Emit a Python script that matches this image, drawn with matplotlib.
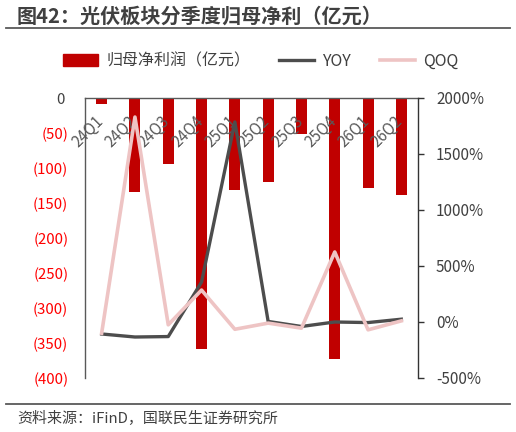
import matplotlib
matplotlib.use("Agg")
import matplotlib.pyplot as plt
from matplotlib.lines import Line2D
from matplotlib.patches import Patch
from matplotlib.transforms import blended_transform_factory

plt.rcParams['font.family'] = ['Noto Sans CJK SC', 'DejaVu Sans']

# 数据
quarters = ['24Q1', '24Q2', '24Q3', '24Q4', '25Q1', '25Q2', '25Q3', '25Q4', '26Q1', '26Q2']
profit = [-8, -134, -94, -358, -131, -120, -51, -373, -129, -139]   # 亿元
yoy = [-107, -134, -130, 357, 1786, 5, -40, 0, -5, 25]               # %
qoq = [-100, 1830, -25, 285, -65, -10, -55, 625, -70, 10]            # %

left_ticks = [0, -50, -100, -150, -200, -250, -300, -350, -400]
right_ticks = [2000, 1500, 1000, 500, 0, -500]

RED = '#C00000'
DARK = '#4D4D4D'
PINK = '#EEC4C4'
GRAY = '#595959'

fig = plt.figure(figsize=(5.16, 4.32), dpi=100)
ax = fig.add_axes([85 / 516, 1 - 378 / 432, (418 - 85) / 516, 280 / 432])

x = list(range(len(quarters)))
ax.bar(x, profit, width=0.33, color=RED, zorder=2)
ax.set_xlim(-0.5, len(quarters) - 0.5)
ax.set_ylim(-400, 0)
ax.set_xticks([])

# 左轴标签：负数用括号、红色
ax.set_yticks(left_ticks)
ax.set_yticklabels(['0 ' if v == 0 else '(%d)' % abs(v) for v in left_ticks])
ax.tick_params(axis='y', length=0, pad=12, labelsize=10.8)
for lab, v in zip(ax.get_yticklabels(), left_ticks):
    lab.set_color('#404040' if v == 0 else '#FF0000')

for s in ['bottom', 'right']:
    ax.spines[s].set_visible(False)
for s in ['left', 'top']:
    ax.spines[s].set_color(GRAY)
    ax.spines[s].set_linewidth(1.0)

# 类目标签（旋转，在0轴下方）
trans = blended_transform_factory(ax.transData, ax.transAxes)
for i, q in enumerate(quarters):
    ax.text(i - 0.42, 0.879, q, transform=trans, rotation=45, ha='center', va='center',
            fontsize=11, color=GRAY, zorder=5)

# 右轴：YOY / QOQ
ax2 = ax.twinx()
ax2.plot(x, yoy, color=DARK, lw=2.4, zorder=3)
ax2.plot(x, qoq, color=PINK, lw=2.6, zorder=4)
ax2.set_ylim(-500, 2000)
ax2.set_yticks(right_ticks)
ax2.set_yticklabels(['%d%%' % v for v in right_ticks])
ax2.tick_params(axis='y', length=4, width=1, color='#333333', pad=9,
                labelsize=11, labelcolor='#404040')
for s in ['bottom', 'left', 'top']:
    ax2.spines[s].set_visible(False)
ax2.spines['right'].set_color('#333333')
ax2.spines['right'].set_linewidth(1.0)

# 图例
handles = [Patch(color=RED), Line2D([], [], color=DARK, lw=2.4), Line2D([], [], color=PINK, lw=2.6)]
fig.legend(handles, ['归母净利润（亿元）', 'YOY', 'QOQ'], loc='center',
           bbox_to_anchor=(0.505, 1 - 61 / 432), ncol=3, frameon=False,
           fontsize=11.5, handlelength=2.2, handletextpad=0.5, columnspacing=1.8,
           labelcolor='#404040')

# 标题与来源
fig.text(17 / 516, 1 - 16 / 432, '图42：光伏板块分季度归母净利（亿元）', fontsize=14.5,
         fontweight='bold', color='#404040', va='center', ha='left')
fig.add_artist(Line2D([6 / 516, 510 / 516], [1 - 28 / 432] * 2, color=GRAY, lw=1.3))
fig.add_artist(Line2D([6 / 516, 510 / 516], [1 - 404 / 432] * 2, color=GRAY, lw=1.3))
fig.text(17 / 516, 1 - 419 / 432, '资料来源：iFinD，国联民生证券研究所', fontsize=10.8,
         color='#404040', va='center', ha='left')

fig.savefig('out.png', dpi=100)
